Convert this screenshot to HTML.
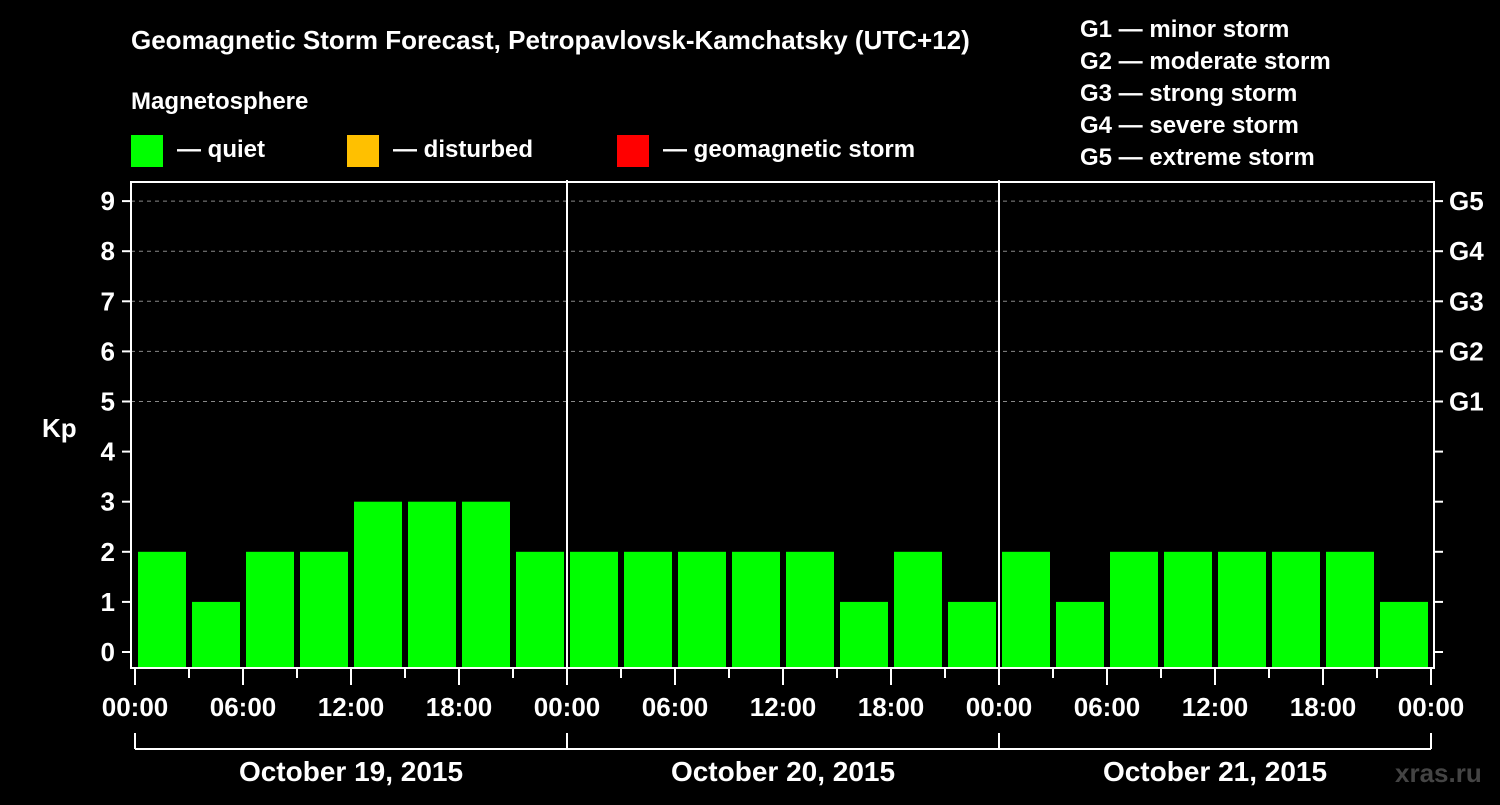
<!DOCTYPE html>
<html><head><meta charset="utf-8"><style>
body{margin:0;background:#000;width:1500px;height:800px;overflow:hidden}
svg text{font-family:"Liberation Sans",Arial,sans-serif;font-weight:bold;fill:#fff}
</style></head><body>
<svg id="chart" width="1500" height="800" xmlns="http://www.w3.org/2000/svg">
<rect width="1500" height="800" fill="#000"/>
<text x="131" y="49" font-size="26">Geomagnetic Storm Forecast, Petropavlovsk-Kamchatsky (UTC+12)</text>
<text x="131" y="109" font-size="24">Magnetosphere</text>
<rect x="131" y="135" width="32" height="32" fill="#00ff00"/>
<text x="177" y="157" font-size="24">— quiet</text>
<rect x="347" y="135" width="32" height="32" fill="#ffc000"/>
<text x="393" y="157" font-size="24">— disturbed</text>
<rect x="617" y="135" width="32" height="32" fill="#ff0000"/>
<text x="663" y="157" font-size="24">— geomagnetic storm</text>
<g font-size="24">
<text x="1080" y="37">G1 — minor storm</text>
<text x="1080" y="69">G2 — moderate storm</text>
<text x="1080" y="101">G3 — strong storm</text>
<text x="1080" y="133">G4 — severe storm</text>
<text x="1080" y="165">G5 — extreme storm</text>
</g>
<text x="42" y="437" font-size="26">Kp</text>
<g id="plot"></g>
<text x="1395" y="782" font-size="26" fill="#444" style="fill:#444">xras.ru</text>
</svg>
<script>
const kpValues=[2,1,2,2,3,3,3,2, 2,2,2,2,2,1,2,1, 2,1,2,2,2,2,2,1];
const days=["October 19, 2015","October 20, 2015","October 21, 2015"];
const hourLabels=["00:00","06:00","12:00","18:00"];
const yTicks=[0,1,2,3,4,5,6,7,8,9];
const gLabels=["G1","G2","G3","G4","G5"];
const NS="http://www.w3.org/2000/svg";
const g=document.getElementById('plot');
const L=131,R=1434,T=182,B=668;
const x0=135,dayW=432;
function xs(h){return x0+h/24*dayW;}
function ys(v){return 652-v*50.1;}
function mk(t,a,p){const e=document.createElementNS(NS,t);for(const k in a)e.setAttribute(k,a[k]);(p||g).appendChild(e);return e;}
// grid
for(let v=5;v<=9;v++){const l=mk('line',{x1:L,x2:R,y1:ys(v),y2:ys(v),stroke:'#888','stroke-dasharray':'4,4','stroke-width':1});

}
// bars
kpValues.forEach((v,i)=>{const c=xs(i*3+1.5);const col=v>=5?'#ff0000':(v>=4?'#ffc000':'#00ff00');
const r=mk('rect',{x:c-24,y:ys(v),width:48,height:B-ys(v),fill:col});

});
// day separators
for(let d=1;d<days.length;d++){const l=mk('line',{x1:xs(d*24),x2:xs(d*24),y1:180,y2:B,stroke:'#fff','stroke-width':2});

}
// frame
const f=mk('rect',{x:L,y:T,width:R-L,height:B-T,fill:'none',stroke:'#fff','stroke-width':2});


// y ticks
yTicks.forEach(v=>{mk('line',{x1:122,x2:L,y1:ys(v),y2:ys(v),stroke:'#fff','stroke-width':2});
mk('line',{x1:R,x2:1443,y1:ys(v),y2:ys(v),stroke:'#fff','stroke-width':2});
const t=mk('text',{x:115,y:ys(v)+9,'font-size':26,'text-anchor':'end'});t.textContent=v;

});
gLabels.forEach((s,i)=>{const t=mk('text',{x:1449,y:ys(i+5)+9,'font-size':26});t.textContent=s;

});
// x ticks
for(let h=0;h<=72;h+=3){const major=h%6===0;mk('line',{x1:xs(h),x2:xs(h),y1:B,y2:major?685:678,stroke:'#fff','stroke-width':2});
if(major){const t=mk('text',{x:xs(h),y:716,'font-size':26,'text-anchor':'middle'});t.textContent=hourLabels[(h/6)%4];

}}
// day brackets
mk('line',{x1:xs(0),x2:xs(72),y1:749,y2:749,stroke:'#fff','stroke-width':2});
for(let d=0;d<=days.length;d++)mk('line',{x1:xs(d*24),x2:xs(d*24),y1:733,y2:749,stroke:'#fff','stroke-width':2});
days.forEach((s,d)=>{const t=mk('text',{x:xs(d*24+12),y:781,'font-size':28,'text-anchor':'middle'});t.textContent=s;

});
</script>
</body></html>
